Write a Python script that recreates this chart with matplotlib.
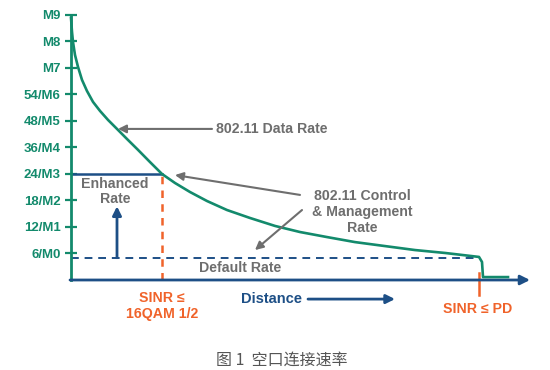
import matplotlib.pyplot as plt

plt.rcParams['font.family'] = ['Liberation Sans', 'DejaVu Sans']

# Colours
green = '#138a6c'
blue = '#1d4f86'
orange = '#f0632a'
gray = '#6e6e6e'

# Data (distance in arbitrary units, rate as tick index)
rate_labels = ['6/M0', '12/M1', '18/M2', '24/M3', '36/M4', '48/M5', '54/M6', 'M7', 'M8', 'M9']
rate_levels = [1, 2, 3, 4, 5, 6, 7, 8, 9, 10]
distance = [0, 1, 2, 4, 7, 11, 16, 22, 29, 37, 46, 56, 67, 79, 91, 104, 119, 136, 156,
            179, 204, 229, 256, 284, 314, 344, 374, 399, 408, 411, 412, 437]
data_rate = [9.89, 9.36, 8.98, 8.49, 8.04, 7.55, 7.13, 6.72, 6.38, 6.04, 5.70, 5.32, 4.91,
             4.45, 4.0, 3.66, 3.32, 2.98, 2.64, 2.34, 2.04, 1.81, 1.62, 1.43, 1.28, 1.13,
             1.02, 0.91, 0.87, 0.68, 0.11, 0.11]
enhanced_dist = 91
enhanced_rate = 4.0
default_rate = 0.84
pd_dist = 408
x_max = 459

fig = plt.figure(figsize=(5.5, 3.7), dpi=100)
ax = fig.add_axes([71 / 550, 90 / 370, (530 - 71) / 550, 273 / 370])
ax.set_xlim(0, x_max)
ax.set_ylim(0, 10.3)

# Axes styling
for s in ['top', 'right', 'bottom']:
    ax.spines[s].set_visible(False)
ax.spines['left'].set_color(green)
ax.spines['left'].set_linewidth(2)
ax.spines['left'].set_bounds(0, 10)
ax.set_xticks([])
ax.set_yticks(rate_levels)
ax.set_yticklabels(rate_labels)
ax.tick_params(axis='y', direction='inout', length=9, width=1.6, color=green,
               labelcolor=green, labelsize=9.5, pad=3)
for lbl in ax.get_yticklabels():
    lbl.set_fontweight('bold')

# x axis with arrow
ax.annotate('', xy=(x_max, 0), xytext=(-1, 0),
            arrowprops=dict(arrowstyle='-|>', color=blue, lw=2, mutation_scale=14,
                            shrinkA=0, shrinkB=0), annotation_clip=False)

# Curve
ax.plot(distance, data_rate, color=green, lw=1.9, clip_on=False, zorder=3,
        solid_joinstyle='round')

# Enhanced rate lines
ax.plot([0, enhanced_dist], [enhanced_rate, enhanced_rate], color=blue, lw=1.8)
ax.plot([enhanced_dist, enhanced_dist], [0, enhanced_rate], color=orange, lw=1.8,
        ls=(0, (3, 2.5)))
ax.plot([0, pd_dist], [default_rate, default_rate], color=blue, lw=1.4, ls=(0, (4, 3)))

# PD marker
ax.plot([pd_dist, pd_dist], [0.28, -0.56], color=orange, lw=1.8, clip_on=False)

# Up arrow
ax.annotate('', xy=(46, 2.78), xytext=(46, default_rate),
            arrowprops=dict(arrowstyle='-|>', color=blue, lw=2, mutation_scale=13,
                            shrinkA=0, shrinkB=0))

# Labels
tk = dict(color=gray, fontsize=10.2, fontweight='bold')
ax.text(145, 5.70, '802.11 Data Rate', ha='left', va='center', **tk)
ax.annotate('', xy=(47, 5.70), xytext=(141, 5.70),
            arrowprops=dict(arrowstyle='-|>', color=gray, lw=1.5, mutation_scale=12,
                            shrinkA=0, shrinkB=0))
ax.text(291, 2.57, '802.11 Control\n& Management\nRate', ha='center', va='center',
        linespacing=1.15, **tk)
ax.annotate('', xy=(104, 3.96), xytext=(229, 3.21),
            arrowprops=dict(arrowstyle='-|>', color=gray, lw=1.5, mutation_scale=12,
                            shrinkA=0, shrinkB=0))
ax.annotate('', xy=(184, 1.13), xytext=(231, 2.64),
            arrowprops=dict(arrowstyle='-|>', color=gray, lw=1.5, mutation_scale=12,
                            shrinkA=0, shrinkB=0))
ax.text(44, 3.33, 'Enhanced\nRate', ha='center', va='center', linespacing=1.1, **tk)
ax.text(169, 0.46, 'Default Rate', ha='center', va='center', **tk)

ax.text(201, -0.72, 'Distance', ha='center', va='center', color=blue, fontsize=10.5,
        fontweight='bold', clip_on=False)
ax.annotate('', xy=(324, -0.72), xytext=(237, -0.72), annotation_clip=False,
            arrowprops=dict(arrowstyle='-|>', color=blue, lw=2, mutation_scale=13,
                            shrinkA=0, shrinkB=0))
ax.text(91, -0.98, 'SINR ≤\n16QAM 1/2', ha='center', va='center', color=orange,
        fontsize=10.2, fontweight='bold', linespacing=1.15, clip_on=False)
ax.text(407, -1.09, 'SINR ≤ PD', ha='center', va='center', color=orange,
        fontsize=10.2, fontweight='bold', clip_on=False)

fig.text(282 / 550, 1 - 360 / 370, '图 1  空口连接速率', ha='center', va='center',
         color='#555555', fontsize=11.5, family=['Noto Sans CJK SC', 'DejaVu Sans'])

fig.savefig('out.png', dpi=100, facecolor='white')
